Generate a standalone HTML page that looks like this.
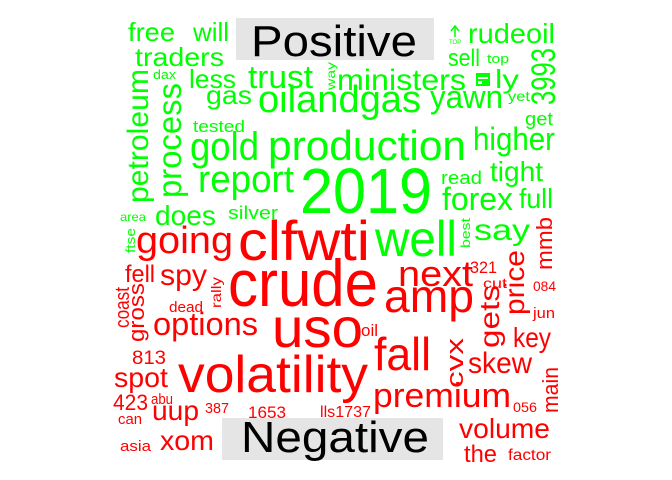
<!DOCTYPE html>
<html><head><meta charset="utf-8"><style>
html,body{margin:0;padding:0;background:#fff;}
svg{display:block;font-family:"Liberation Sans",sans-serif;}
</style></head>
<body>
<svg id="cloud" width="672" height="480" viewBox="0 0 672 480" xmlns="http://www.w3.org/2000/svg">
<rect x="236" y="18" width="198" height="42" fill="#e5e5e5"/>
<text x="251" y="56" font-size="44" textLength="166" lengthAdjust="spacingAndGlyphs" fill="#000">Positive</text>
<rect x="222" y="418" width="221" height="42" fill="#e5e5e5"/>
<text x="241" y="452" font-size="44" textLength="188" lengthAdjust="spacingAndGlyphs" fill="#000">Negative</text>
<g fill="#00ff00" stroke="#00ff00">
<line x1="455" y1="27" x2="455" y2="37" stroke-width="1.5"/>
<polyline points="451,31 455,26 459,31" fill="none" stroke-width="1.5"/>
<text x="449" y="44" font-size="6" stroke="none">TOP</text>
</g>
<g>
<rect x="476" y="73" width="14" height="13" fill="#00ff00"/>
<rect x="478" y="77" width="10" height="2" fill="#fff"/>
<rect x="478" y="81" width="4" height="3" fill="#fff"/>
</g>
</svg>
<script>
var words=["free","will","traders","dax","less","trust","ministers","rudeoil","sell","top","ly","3993","yet","get","petroleum","process","gas","oilandgas","yawn","tested","gold","production","higher","report","2019","read","tight","forex","full","area","silver","does","ftse","way","best",
"mmb","going","clfwti","well","say","fell","spy","crude","next","amp","321","cut","084","price","coast","gross","dead","rally","options","uso","oil","gets","jun","fall","key","cvx","813","volatility","skew","spot","main","premium","423","abu","387","1653","lls1737","056","uup","can","volume","asia","xom","the","factor"];
var sentiment=["pos","pos","pos","pos","pos","pos","pos","pos","pos","pos","pos","pos","pos","pos","pos","pos","pos","pos","pos","pos","pos","pos","pos","pos","pos","pos","pos","pos","pos","pos","pos","pos","pos","pos","pos",
"neg","neg","neg","pos","pos","neg","neg","neg","neg","neg","neg","neg","neg","neg","neg","neg","neg","neg","neg","neg","neg","neg","neg","neg","neg","neg","neg","neg","neg","neg","neg","neg","neg","neg","neg","neg","neg","neg","neg","neg","neg","neg","neg","neg","neg"];
// layout: [x, y, size, length, rotated]
var layout=[[128,41,26,47,0],[193,41,26,36,0],[135,66,26,89,0],[153,79,13,23,0],[189,88,26,47,0],[248,88,32,65,0],[337,90,30,129,0],[468,43,28,87,0],[448,66,24,32,0],[487,63,13,22,0],[495,88,26,24,0],[555,105,34,57,1],[508,101,14,22,0],[525,125,18,28,0],[148,203,30,134,1],[181,198,33,115,1],[206,104,26,46,0],[258,112,38,163,0],[430,108,32,73,0],[193,132,17,52,0],[190,160,40,69,0],[268,160,42,198,0],[473,150,32,82,0],[198,192,38,96,0],[300,213,64,132,0],[441,184,18,41,0],[490,181,28,53,0],[442,210,32,71,0],[519,208,28,34,0],[120,221,12,26,0],[228,219,18,50,0],[155,225,28,61,0],[135,253,13,25,1],[335,90,12,28,1],[470,248,13,30,1],
[552,270,22,53,1],[136,253,38,97,0],[238,260,56,132,0],[375,256,50,82,0],[474,240,30,56,0],[125,282,24,30,0],[160,285,30,47,0],[228,306,66,150,0],[398,286,36,75,0],[384,312,46,90,0],[470,273,17,27,0],[483,288,14,24,0],[533,291,14,23,0],[524,315,28,65,1],[129,328,20,41,1],[144,342,22,59,1],[169,312,15,34,0],[221,308,14,31,1],[153,335,32,105,0],[272,347,56,91,0],[361,336,17,17,0],[499,348,28,63,1],[533,318,15,22,0],[374,370,46,57,0],[513,347,28,38,0],[463,388,24,50,1],[132,364,19,34,0],[178,392,52,190,0],[468,373,30,64,0],[114,387,28,54,0],[558,413,22,46,1],[373,407,34,138,0],[113,410,22,35,0],[151,404,15,22,0],[205,413,15,24,0],[248,418,17,38,0],[320,417,16,51,0],[513,412,14,24,0],[152,420,28,47,0],[118,424,15,24,0],[459,438,28,91,0],[120,451,15,31,0],[160,450,28,54,0],[464,462,24,33,0],[508,460,16,43,0]];
var svg=document.getElementById('cloud');
var NS='http://www.w3.org/2000/svg';
for(var i=0;i<words.length;i++){
  var L=layout[i];
  var t=document.createElementNS(NS,'text');
  
  
  t.setAttribute('x',L[0]);
  t.setAttribute('y',L[1]);
  t.setAttribute('font-size',L[2]);
  t.setAttribute('textLength',L[3]);
  t.setAttribute('lengthAdjust','spacingAndGlyphs');
  t.setAttribute('fill',sentiment[i]==='pos'?'#00ff00':'#ff0000');
  if(L[4]) t.setAttribute('transform','rotate(-90 '+L[0]+' '+L[1]+')');
  t.textContent=words[i];
  svg.appendChild(t);
}
</script>
</body></html>
